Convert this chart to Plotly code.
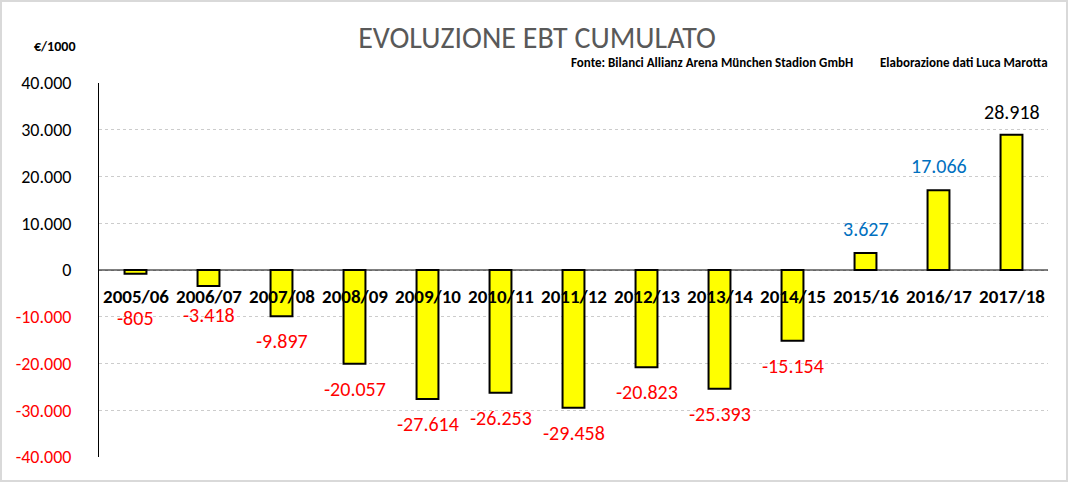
import plotly.graph_objects as go

categories = ["2005/06", "2006/07", "2007/08", "2008/09", "2009/10", "2010/11", "2011/12",
              "2012/13", "2013/14", "2014/15", "2015/16", "2016/17", "2017/18"]
ebt_cumulato = [-805, -3418, -9897, -20057, -27614, -26253, -29458,
                -20823, -25393, -15154, 3627, 17066, 28918]
value_labels = ["-805", "-3.418", "-9.897", "-20.057", "-27.614", "-26.253", "-29.458",
                "-20.823", "-25.393", "-15.154", "3.627", "17.066", "28.918"]
y_ticks = [40000, 30000, 20000, 10000, 0, -10000, -20000, -30000, -40000]
y_tick_labels = ["40.000", "30.000", "20.000", "10.000", "0", "-10.000", "-20.000", "-30.000", "-40.000"]

# styling
RED = "#ff0000"
BLUE = "#0070c0"
label_colors = [RED] * 10 + [BLUE, BLUE, "#000000"]
label_shift = [-44, -29, -25, -25, -25, -25, -25, -25, -25, -25, 24, 24, 23]
FONT = "Calibri, Carlito, Lato, sans-serif"

W, H = 1074, 485
L, R, T, B = 99, 1048, 83, 457


def px(xp):
    return (xp - L) / (R - L)


def py(yp):
    return (B - yp) / (B - T)


fig = go.Figure()
fig.add_trace(go.Bar(
    x=list(range(len(categories))), y=ebt_cumulato, width=0.3,
    marker=dict(color="#ffff00", line=dict(color="#000000", width=2)),
    hoverinfo="skip", showlegend=False,
))

annotations = []
for i, c in enumerate(categories):
    annotations.append(dict(x=i, y=0, xref="x", yref="y", text=f"<b>{c}</b>", showarrow=False,
                            yshift=-26, font=dict(family=FONT, size=19, color="#000000"),
                            xanchor="center", yanchor="middle"))
for i, (v, t) in enumerate(zip(ebt_cumulato, value_labels)):
    annotations.append(dict(x=i, y=v, xref="x", yref="y", text=t, showarrow=False,
                            yshift=label_shift[i], font=dict(family=FONT, size=20, color=label_colors[i]),
                            xanchor="center", yanchor="middle"))

annotations += [
    dict(x=px(55), y=py(46), xref="paper", yref="paper", text="<b>€/1000</b>", showarrow=False,
         font=dict(family=FONT, size=14, color="#000000"), xanchor="center", yanchor="middle"),
    dict(x=px(569), y=py(62), xref="paper", yref="paper",
         text="<b>Fonte: Bilanci Allianz Arena München Stadion GmbH</b>", showarrow=False,
         font=dict(family=FONT, size=13, color="#000000"), xanchor="left", yanchor="middle"),
    dict(x=px(1050), y=py(62), xref="paper", yref="paper",
         text="<b>Elaborazione dati Luca Marotta</b>", showarrow=False,
         font=dict(family=FONT, size=13, color="#000000"), xanchor="right", yanchor="middle"),
]

tick_text = [f"<span style='color:{RED}'>{t}</span>" if v < 0 else t for v, t in zip(y_ticks, y_tick_labels)]

shapes = [
    dict(type="rect", xref="paper", yref="paper", x0=px(1), x1=px(1067), y0=py(1), y1=py(481),
         line=dict(color="#d9d9d9", width=2), layer="below"),
    dict(type="line", xref="paper", yref="y", x0=0, x1=1, y0=0, y1=0,
         line=dict(color="#000000", width=1), layer="above"),
]

fig.update_layout(
    width=W, height=H,
    margin=dict(l=L, r=W - R, t=T, b=H - B, autoexpand=False),
    paper_bgcolor="#ffffff", plot_bgcolor="#ffffff",
    title=dict(text="EVOLUZIONE EBT CUMULATO", x=0.5, xref="container", xanchor="center",
               y=1 - 37 / H, yref="container", yanchor="middle",
               font=dict(family=FONT, size=30, color="#595959")),
    xaxis=dict(range=[-0.5, len(categories) - 0.5], showticklabels=False, showgrid=False,
               zeroline=False, showline=False, fixedrange=True),
    yaxis=dict(range=[-40000, 40000], tickvals=y_ticks, ticktext=tick_text,
               showgrid=True, gridcolor="#cccccc", griddash="dot", gridwidth=1,
               zeroline=False, showline=True, linecolor="#000000", linewidth=1,
               ticks="", ticklabelstandoff=23, fixedrange=True,
               tickfont=dict(family=FONT, size=18, color="#000000")),
    annotations=annotations, shapes=shapes,
    bargap=0.7,
)

fig.write_html("out.html", config={"displayModeBar": False},
               post_script="document.body.style.margin='0';")
